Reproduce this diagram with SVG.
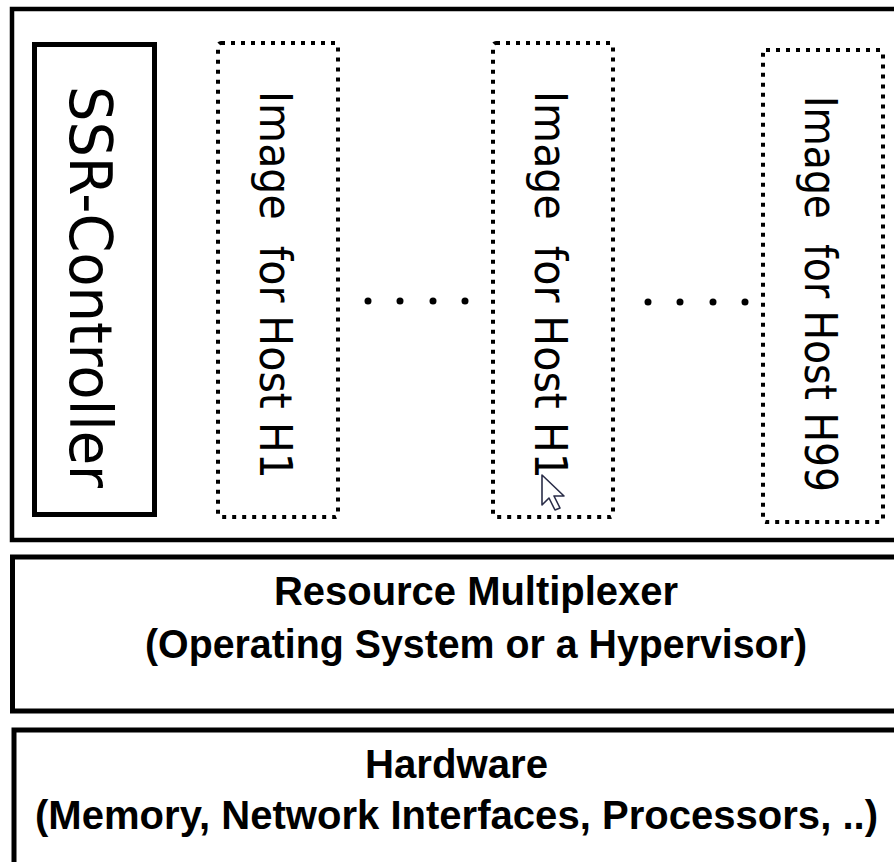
<svg xmlns="http://www.w3.org/2000/svg" width="894" height="862" viewBox="0 0 894 862">
  <style>
    .solid { fill: #ffffff; stroke: #000000; }
    .dotted { fill: none; stroke: #000000; stroke-width: 4; stroke-dasharray: 4 6; }
    .vt { font-family: "DejaVu Sans", "Liberation Sans", sans-serif; fill: #000000; }
    .bt { font-family: "Liberation Sans", Arial, sans-serif; font-weight: bold; font-size: 40px; fill: #000000; }
    .dot { fill: #000000; }
  </style>
  <rect width="894" height="862" fill="#ffffff"/>

  <g id="application-layer">
    <rect class="solid" x="12" y="9" width="900" height="531" stroke-width="4.5"/>
  </g>

  <g id="ssr-controller">
    <rect class="solid" x="34.5" y="44.5" width="120" height="470" stroke-width="5"/>
    <text class="vt" font-size="59" transform="translate(70,86) rotate(90)" textLength="402" lengthAdjust="spacingAndGlyphs">SSR-Controller</text>
  </g>

  <g id="image-h1-a">
    <rect class="dotted" x="218" y="43" width="120" height="474" rx="3"/>
    <text class="vt" font-size="45" transform="translate(260,91) rotate(90)" textLength="388" lengthAdjust="spacingAndGlyphs">Image&#160; for Host H1</text>
  </g>

  <g id="image-h1-b">
    <rect class="dotted" x="493" y="43" width="120" height="474" rx="3"/>
    <text class="vt" font-size="45" transform="translate(535,91) rotate(90)" textLength="388" lengthAdjust="spacingAndGlyphs">Image&#160; for Host H1</text>
    <path d="M542,475 L542,505 L549,498 L555,510 L560,508 L554,496 L564,496 Z" fill="#ffffff" stroke="#2a2d48" stroke-width="1.6" stroke-linejoin="round"/>
  </g>

  <g id="image-h99">
    <rect class="dotted" x="763" y="50" width="120" height="472" rx="3"/>
    <text class="vt" font-size="45" transform="translate(805,96) rotate(90)" textLength="396" lengthAdjust="spacingAndGlyphs">Image&#160; for Host H99</text>
  </g>

  <g id="ellipsis">
    <circle class="dot" cx="368" cy="301" r="3.5"/>
    <circle class="dot" cx="400" cy="301" r="3.5"/>
    <circle class="dot" cx="433" cy="301" r="3.5"/>
    <circle class="dot" cx="465" cy="301" r="3.5"/>
    <circle class="dot" cx="648" cy="302" r="3.5"/>
    <circle class="dot" cx="680" cy="302" r="3.5"/>
    <circle class="dot" cx="713" cy="302" r="3.5"/>
    <circle class="dot" cx="745" cy="302" r="3.5"/>
  </g>

  <g id="resource-multiplexer">
    <rect class="solid" x="12.5" y="557" width="900" height="154" stroke-width="5"/>
    <text class="bt" x="274" y="605" textLength="404" lengthAdjust="spacingAndGlyphs">Resource Multiplexer</text>
    <text class="bt" x="145" y="658" textLength="662" lengthAdjust="spacingAndGlyphs">(Operating System or a Hypervisor)</text>
  </g>

  <g id="hardware">
    <rect class="solid" x="14" y="730" width="900" height="135" stroke-width="5"/>
    <text class="bt" x="365" y="778" textLength="183" lengthAdjust="spacingAndGlyphs">Hardware</text>
    <text class="bt" x="35" y="829" textLength="843" lengthAdjust="spacingAndGlyphs">(Memory, Network Interfaces, Processors, ..)</text>
  </g>

  <g id="connectors"></g>
</svg>
